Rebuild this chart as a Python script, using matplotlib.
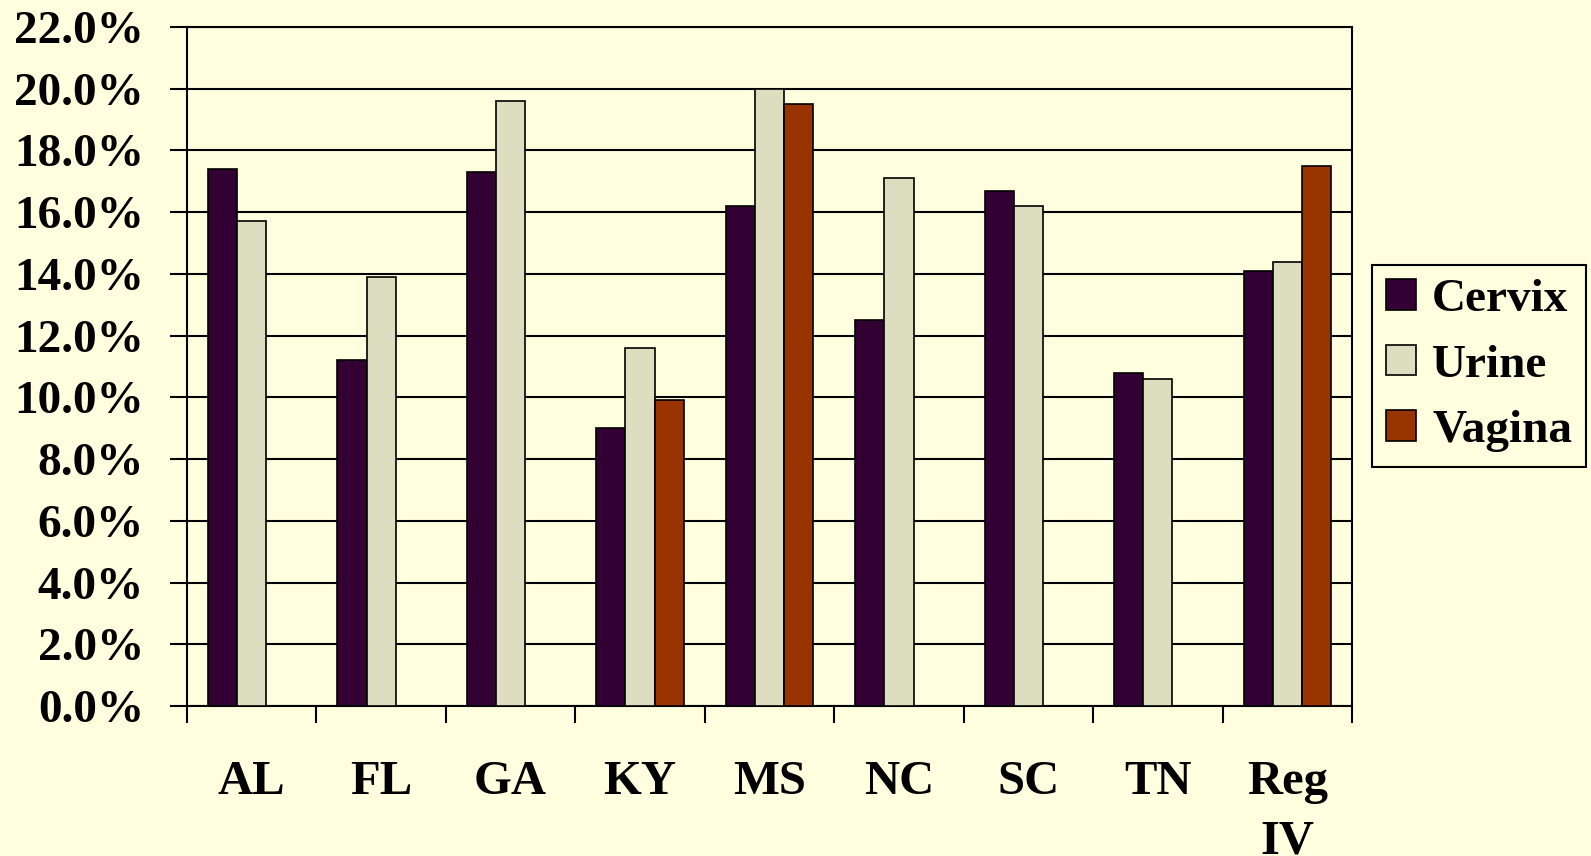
import numpy as np
import matplotlib
matplotlib.use("Agg")
import matplotlib.pyplot as plt
from matplotlib.ticker import MultipleLocator, FixedLocator, PercentFormatter

plt.rcParams['font.family'] = ['Liberation Serif', 'DejaVu Serif']
plt.rcParams['font.weight'] = 'bold'

states = ["AL", "FL", "GA", "KY", "MS", "NC", "SC", "TN", "Reg\nIV"]
cervix = [17.4, 11.2, 17.3, 9.0, 16.2, 12.5, 16.7, 10.8, 14.1]
urine = [15.7, 13.9, 19.6, 11.6, 20.0, 17.1, 16.2, 10.6, 14.4]
vagina = [np.nan, np.nan, np.nan, 9.9, 19.5, np.nan, np.nan, np.nan, 17.5]

series = [("Cervix", cervix, "#330033"),
          ("Urine", urine, "#DDDDC0"),
          ("Vagina", vagina, "#993300")]

bg = "#FFFFE0"
fig = plt.figure(figsize=(15.91, 8.56), dpi=100, facecolor=bg)
ax = fig.add_axes([0.1175, 0.1752, 0.8498 - 0.1175, 0.9685 - 0.1752])
ax.set_facecolor(bg)

x = np.arange(len(states))
w = 0.225
for i, (name, vals, col) in enumerate(series):
    ax.bar(x + (i - 1) * w, vals, w, color=col, edgecolor="black",
           linewidth=1.2, label=name, zorder=3)

ax.set_xlim(-0.5, len(states) - 0.5)
ax.set_ylim(0, 22)
ax.yaxis.set_major_locator(MultipleLocator(2))
ax.yaxis.set_major_formatter(PercentFormatter(decimals=1))
ax.grid(axis="y", color="black", linewidth=1.5, zorder=0)

ax.set_xticks(x)
ax.set_xticklabels(states, fontsize=35, fontweight="bold", linespacing=1.45)
ax.xaxis.set_minor_locator(FixedLocator(np.arange(-0.5, len(states), 1)))
ax.tick_params(axis="x", which="major", length=0, pad=39)
ax.tick_params(axis="x", which="minor", length=12, width=1.5, direction="out")
ax.tick_params(axis="y", length=12, width=1.5, pad=19, labelsize=34)
for lab in ax.get_yticklabels():
    lab.set_fontweight("bold")

for s in ax.spines.values():
    s.set_linewidth(1.5)

leg = ax.legend(loc="upper left", bbox_to_anchor=(0.8624, 0.6904),
                bbox_transform=fig.transFigure, borderaxespad=0,
                prop={"weight": "bold", "size": 34},
                frameon=True, fancybox=False, edgecolor="black",
                facecolor=bg, framealpha=1, handlelength=0.62,
                handleheight=0.62, handletextpad=0.35, labelspacing=0.5,
                borderpad=0.3)
leg.get_frame().set_linewidth(1.5)

fig.savefig("out.png", dpi=100, facecolor=bg)
